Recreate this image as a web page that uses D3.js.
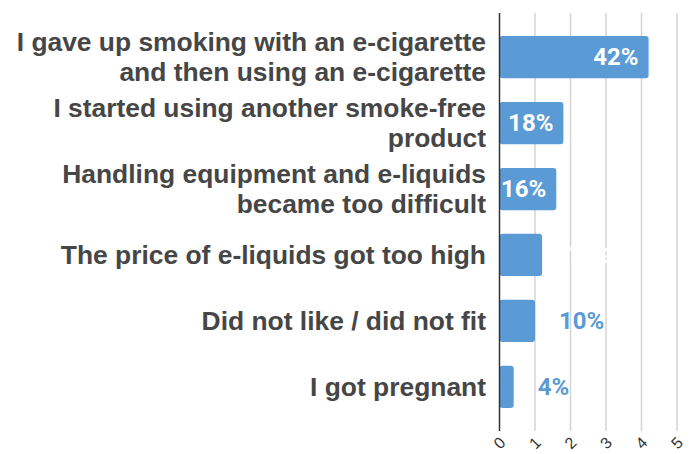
<!DOCTYPE html>
<html>
<head>
<meta charset="utf-8">
<script src="https://cdn.jsdelivr.net/npm/d3@7"></script>
<style>
  html, body { margin: 0; padding: 0; background: #fff; }
  svg { display: block; }
</style>
</head>
<body>
<svg id="chart" width="691" height="454"></svg>
<script>
// Reasons for stopping e-cigarette use
const categories = [
  "I gave up smoking with an e-cigarette\nand then using an e-cigarette",
  "I started using another smoke-free\nproduct",
  "Handling equipment and e-liquids\nbecame too difficult",
  "The price of e-liquids got too high",
  "Did not like / did not fit",
  "I got pregnant"
];
const values = [4.2, 1.8, 1.6, 1.2, 1.0, 0.4];
const valueLabels = ["42%", "18%", "16%", "12%", "10%", "4%"];
const labelInside = [true, true, true, false, false, false];
const labelColors = ["#ffffff", "#ffffff", "#ffffff", "#ffffff", "#5b9bd5", "#5b9bd5"];
const tickValues = [0, 1, 2, 3, 4, 5];

const svg = d3.select("#chart");
const barColor = "#5b9bd5";

const x = d3.scaleLinear().domain([0, 5]).range([499.5, 677]);
const y = d3.scaleBand().domain(d3.range(categories.length)).range([13, 431]).paddingInner(0.36).paddingOuter(0.35);

// vertical gridlines
svg.append("g")
  .selectAll("line")
  .data(tickValues.slice(1))
  .join("line")
  .attr("x1", d => x(d)).attr("x2", d => x(d))
  .attr("y1", 13).attr("y2", 431)
  .attr("stroke", "#d4d4d4")
  .attr("stroke-width", 1.5);

// bars
svg.append("g")
  .selectAll("rect")
  .data(values)
  .join("rect")
  .attr("x", x(0))
  .attr("y", (d, i) => y(i))
  .attr("width", d => x(d) - x(0))
  .attr("height", y.bandwidth())
  .attr("rx", 3)
  .attr("fill", barColor);

// baseline axis
svg.append("line")
  .attr("x1", x(0)).attr("x2", x(0))
  .attr("y1", 13).attr("y2", 431)
  .attr("stroke", "#333")
  .attr("stroke-width", 1.5);

// category labels
const catG = svg.append("g")
  .attr("font-family", "'Liberation Sans', Arial, sans-serif")
  .attr("font-weight", "bold")
  .attr("font-size", 26.4)
  .attr("fill", "#464646");
categories.forEach((c, i) => {
  const lines = c.split("\n");
  const lh = 30;
  const cy = y(i) + y.bandwidth() / 2;
  const t = catG.append("text")
    .attr("text-anchor", "end")
    .attr("dominant-baseline", "central");
  lines.forEach((ln, k) => {
    t.append("tspan")
      .attr("x", 486)
      .attr("y", cy + (k - (lines.length - 1) / 2) * lh)
      .text(ln);
  });
});

// value labels
svg.append("g")
  .attr("font-family", "Roboto, sans-serif")
  .attr("font-weight", "bold")
  .attr("font-size", 24)
  .selectAll("text")
  .data(values)
  .join("text")
  .attr("x", (d, i) => labelInside[i] ? x(d) - 10 : x(d) + 24)
  .attr("y", (d, i) => y(i) + y.bandwidth() / 2)
  .attr("dominant-baseline", "central")
  .attr("text-anchor", (d, i) => labelInside[i] ? "end" : "start")
  .attr("fill", (d, i) => labelColors[i])
  .text((d, i) => valueLabels[i]);

// tick labels
svg.append("g")
  .attr("font-family", "'Liberation Sans', Arial, sans-serif")
  .attr("font-size", 16)
  .attr("fill", "#333")
  .selectAll("text")
  .data(tickValues)
  .join("text")
  .attr("transform", d => `translate(${x(d)},443) rotate(-45)`)
  .attr("text-anchor", "middle")
  .attr("dominant-baseline", "central")
  .text(d => d);
</script>
</body>
</html>
